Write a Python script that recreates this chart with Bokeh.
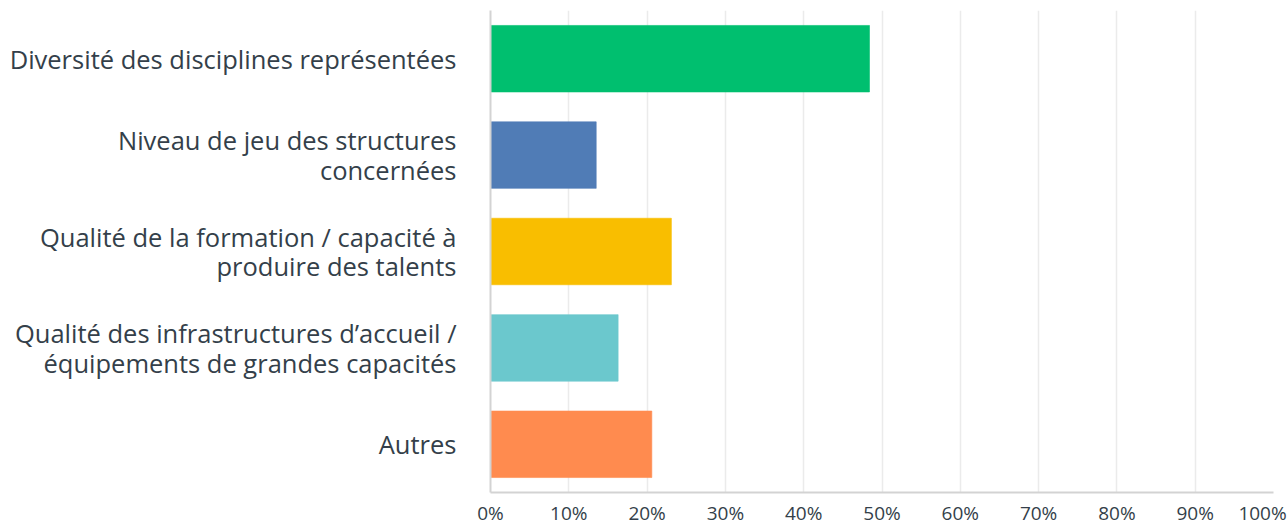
from bokeh.plotting import figure
from bokeh.models import FactorRange, Range1d, FixedTicker, CustomJSTickFormatter
from bokeh.embed import file_html
from bokeh.resources import INLINE

categories = [
    "Diversité des disciplines représentées",
    "Niveau de jeu des structures\nconcernées",
    "Qualité de la formation / capacité à\nproduire des talents",
    "Qualité des infrastructures d’accueil /\néquipements de grandes capacités",
    "Autres",
]
values = [48.4, 13.5, 23.1, 16.3, 20.6]
colors = ["#00BF6F", "#507CB6", "#F9BE00", "#6BC8CD", "#FF8B4F"]
grid_ticks = [10, 20, 30, 40, 50, 60, 70, 80, 90]
# label positions on the axis (the last one is nudged left so "100%" stays inside the page)
label_ticks = [0, 10, 20, 30, 40, 50, 60, 70, 80, 90, 98.6]

TEXT = "#343f4a"
FONT = "Open Sans"

p = figure(
    width=1287, height=528,
    y_range=FactorRange(factors=list(reversed(categories))),
    x_range=Range1d(0, 100),
    output_backend="svg", toolbar_location=None,
    min_border_left=490, min_border_right=14, min_border_top=10, min_border_bottom=35,
)
p.outline_line_color = None
p.background_fill_color = "white"
p.border_fill_color = "white"

p.hbar(y=categories, right=values, height=0.69, left=0,
       fill_color=colors, line_color=colors, line_alpha=0.6)

# x axis
p.xaxis.ticker = FixedTicker(ticks=label_ticks)
p.xaxis.formatter = CustomJSTickFormatter(
    code="return (tick > 95 ? 100 : Math.round(tick)) + '%';")
p.xaxis.major_tick_line_color = None
p.xaxis.minor_tick_line_color = None
p.xaxis.major_tick_out = 0
p.xaxis.major_tick_in = 0
p.xaxis.minor_tick_out = 0
p.xaxis.axis_line_color = "#d3d3d3"
p.xaxis.axis_line_width = 2
p.xaxis.major_label_text_font = FONT
p.xaxis.major_label_text_font_size = "19px"
p.xaxis.major_label_text_color = TEXT
p.xaxis.major_label_standoff = 7

# y axis
p.yaxis.major_tick_line_color = None
p.yaxis.minor_tick_line_color = None
p.yaxis.major_tick_out = 0
p.yaxis.major_tick_in = 0
p.yaxis.axis_line_color = "#d3d3d3"
p.yaxis.axis_line_width = 2
p.yaxis.major_label_text_font = FONT
p.yaxis.major_label_text_font_size = "25.5px"
p.yaxis.major_label_text_color = TEXT
p.yaxis.major_label_text_line_height = 0.87
p.yaxis.major_label_standoff = 34

p.xgrid.ticker = FixedTicker(ticks=grid_ticks)
p.xgrid.grid_line_color = "#ebebeb"
p.xgrid.grid_line_width = 1.5
p.ygrid.grid_line_color = None

open("out.html", "w").write(file_html(p, INLINE))
